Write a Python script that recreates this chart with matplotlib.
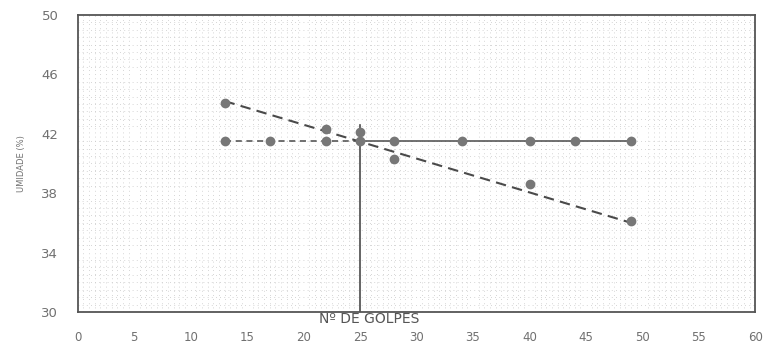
import matplotlib.pyplot as plt

# horizontal series (umidade de referencia)
golpes_h = [13, 17, 22, 25, 28, 34, 40, 44, 49]
umid_h = [41.5, 41.5, 41.5, 41.5, 41.5, 41.5, 41.5, 41.5, 41.5]

# measured points
golpes = [13, 22, 25, 28, 40, 49]
umid = [44.1, 42.3, 42.1, 40.3, 38.6, 36.1]

# trend line end points
trend_x = [13, 49]
trend_y = [44.2, 36.0]

x_ticks = list(range(0, 61, 5))
y_ticks = [30, 34, 38, 42, 46, 50]

fig = plt.figure(figsize=(7.7, 3.47), dpi=100)
ax = fig.add_axes([0.101, 0.101, 0.880, 0.856])

line_c = "#4a4a4a"
mark_c = "#777777"
txt_c = "#707070"

# horizontal line: dashed up to 25, solid after
ax.plot(golpes_h[:4], umid_h[:4], color=line_c, ls=(0, (4, 3)), lw=1.1, zorder=2)
ax.plot(golpes_h[3:], umid_h[3:], color=line_c, ls="-", lw=1.1, zorder=2)
ax.plot(golpes_h, umid_h, ls="none", marker="o", ms=6, color=mark_c, zorder=3)

# trend line
ax.plot(trend_x, trend_y, color=line_c, ls=(0, (5, 3)), lw=1.5, zorder=2)
ax.plot(golpes, umid, ls="none", marker="o", ms=6, color=mark_c, zorder=3)

# vertical line at 25 golpes
ax.plot([25, 25], [30, 42.6], color=line_c, lw=1.2, zorder=2)

ax.set_xlim(0, 60)
ax.set_ylim(30, 50)
ax.set_xticks(x_ticks)
ax.set_yticks(y_ticks)
ax.tick_params(length=0, colors=txt_c, labelsize=8.5, pad=14)
ax.tick_params(axis="y", pad=14, labelsize=9.5)

ax.set_xticks([x * 0.5 for x in range(121)], minor=True)
ax.set_yticks([30 + y * 0.5 for y in range(41)], minor=True)
ax.tick_params(which="minor", length=0)
ax.grid(which="minor", color="#c8c8c8", ls=(0, (1, 4)), lw=0.6)

for s in ax.spines.values():
    s.set_color("#555555")
    s.set_linewidth(1.3)

fig.text(0.028, 0.53, "UMIDADE (%)", rotation=90, ha="center", va="center",
         fontsize=6, color=txt_c)
fig.text(0.48, 0.082, "Nº DE GOLPES", ha="center", va="center",
         fontsize=10, color="#555555")

fig.savefig("out.png", dpi=100)
